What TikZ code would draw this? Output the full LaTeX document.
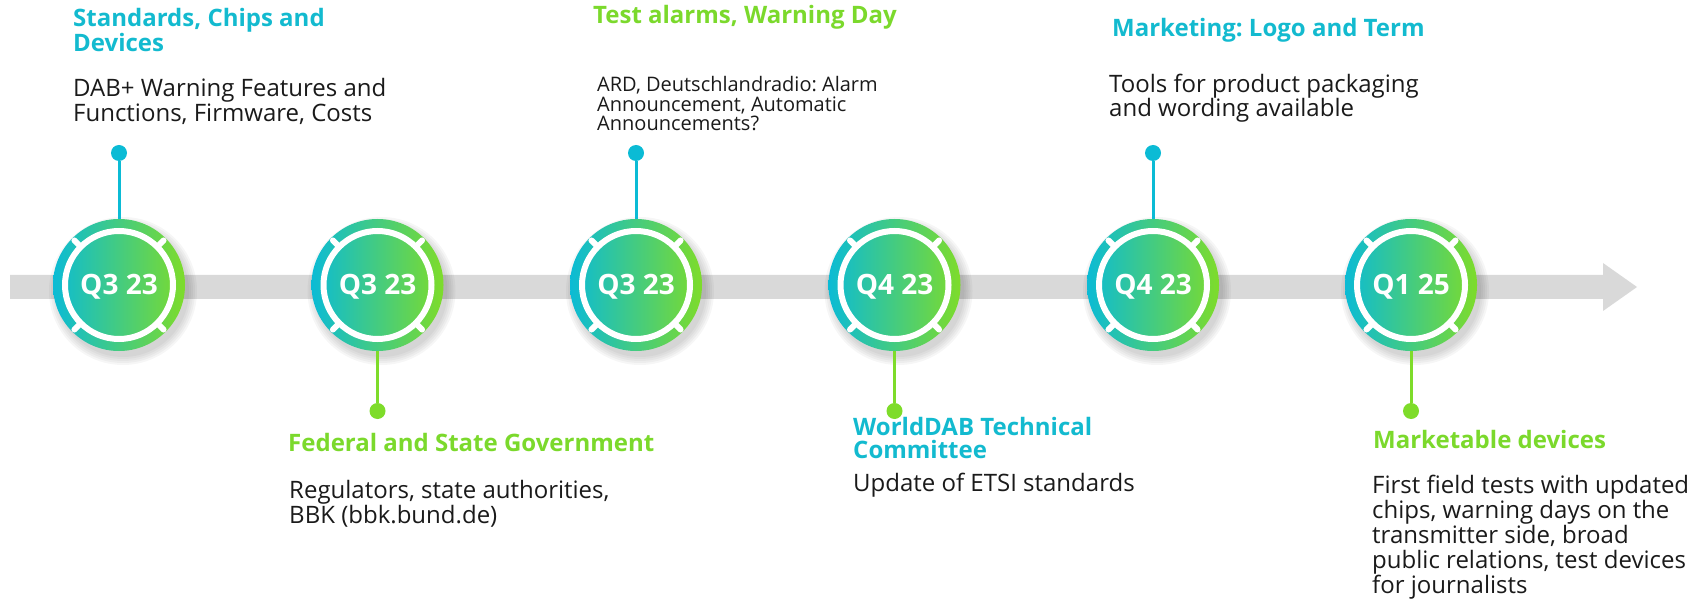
\documentclass[tikz,border=0pt]{standalone}
\usepackage{fontspec}
\setmainfont{Open Sans}
\usetikzlibrary{calc}
\frenchspacing
\definecolor{cy}{HTML}{0BBBD5}
\definecolor{gr}{HTML}{7EDC2A}
\definecolor{tcy}{HTML}{13BACF}
\definecolor{tgr}{HTML}{7BD92C}
\definecolor{barc}{HTML}{D9D9D9}
\definecolor{txt}{HTML}{1A1A1A}
\newcommand{\mystack}[2]{\vtop{\baselineskip=#1pt\relax #2}}
\tikzset{
  qcircle/.style={circle, minimum size=132pt, inner sep=0pt, left color=cy, right color=gr,
    font=\bfseries\fontsize{28}{28}\selectfont, text=white, text height=20pt, text depth=0pt},
  dotcy/.style={circle, fill=cy, minimum size=16pt, inner sep=0pt},
  dotgr/.style={circle, fill=gr, minimum size=16pt, inner sep=0pt},
  linkcy/.style={draw=cy, line width=3pt},
  linkgr/.style={draw=gr, line width=3pt},
  ttl/.style={anchor=base west, inner sep=0pt, font=\bfseries\fontsize{24}{25}\selectfont},
  body/.style={anchor=base west, inner sep=0pt, font=\fontsize{24}{24}\selectfont, text=txt},
  bodysm/.style={anchor=base west, inner sep=0pt, font=\fontsize{20}{20}\selectfont, text=txt},
  ring/.style={draw=white, line width=6pt},
  notch/.style={draw=white, line width=6pt, line cap=round},
  shade/.style={fill=black, opacity=0.035},
}
\begin{document}
\begin{tikzpicture}[x=1pt, y=-1pt]
\useasboundingbox (0,0) rectangle (1704,601);
% timeline bar with arrow head
\fill[barc] (10,275) -- (1603,275) -- (1603,263) -- (1637,287) -- (1603,311) -- (1603,299) -- (10,299) -- cycle;
% positions
\coordinate (p1) at (119,285);
\coordinate (p2) at (377.5,285);
\coordinate (p3) at (636,285);
\coordinate (p4) at (894.5,285);
\coordinate (p5) at (1153,285);
\coordinate (p6) at (1411,285);
% soft shadows
\foreach \p in {p1,p2,p3,p4,p5,p6}{
  \foreach \r in {66,68,70,72,74}{
    \fill[shade] ($(\p)+(4,6)$) circle[radius=\r pt];
  }
}
% circles
\node[qcircle] (c1) at (p1) {Q3 23};
\node[qcircle] (c2) at (p2) {Q3 23};
\node[qcircle] (c3) at (p3) {Q3 23};
\node[qcircle] (c4) at (p4) {Q4 23};
\node[qcircle] (c5) at (p5) {Q4 23};
\node[qcircle] (c6) at (p6) {Q1 25};
\foreach \n in {c1,c2,c3,c4,c5,c6}{
  \draw[ring] (\n.center) circle[radius=54pt];
  \foreach \a in {45,135,225,315}{
    \draw[notch] ($(\n.center)+(\a:54)$) -- ($(\n.center)+(\a:63)$);
  }
}
% dots
\node[dotcy] (d1) at (119,153) {};
\node[dotgr] (d2) at (377.5,411) {};
\node[dotcy] (d3) at (636,153) {};
\node[dotgr] (d4) at (894.5,411) {};
\node[dotcy] (d5) at (1153,153) {};
\node[dotgr] (d6) at (1411,411) {};
% connectors
\draw[linkcy] (d1) -- (c1);
\draw[linkgr] (d2) -- (c2);
\draw[linkcy] (d3) -- (c3);
\draw[linkgr] (d4) -- (c4);
\draw[linkcy] (d5) -- (c5);
\draw[linkgr] (d6) -- (c6);
% texts
\node[ttl, text=tcy] (t1) at (73,27) {\mystack{25}{\hbox{Standards, Chips and}\hbox{Devices}}};
\node[body] (b1) at (73,97) {\mystack{23}{\hbox{DAB+ Warning Features and}\hbox{Functions, Firmware, Costs}}};
\node[ttl, text=tgr] (t2) at (288,451) {Federal and State Government};
\node[body] (b2) at (289,498) {\mystack{22}{\hbox{Regulators, state authorities,}\hbox{BBK (bbk.bund.de)}}};
\node[ttl, text=tgr] (t3) at (593,24) {Test alarms, Warning Day};
\node[bodysm] (b3) at (597,92) {\mystack{19.5}{\hbox{ARD, Deutschlandradio: Alarm}\hbox{Announcement, Automatic}\hbox{Announcements?}}};
\node[ttl, text=tcy] (t4) at (853,435) {\mystack{23}{\hbox{WorldDAB Technical}\hbox{Committee}}};
\node[body] (b4) at (853,491) {Update of ETSI standards};
\node[ttl, text=tcy] (t5) at (1112,37) {Marketing: Logo and Term};
\node[body] (b5) at (1109,93) {\mystack{24}{\hbox{Tools for product packaging}\hbox{and wording available}}};
\node[ttl, text=tgr] (t6) at (1373,448) {Marketable devices};
\node[body] (b6) at (1372,493) {\mystack{25}{\hbox{First field tests with updated}\hbox{chips, warning days on the}\hbox{transmitter side, broad}\hbox{public relations, test devices}\hbox{for journalists}}};
\end{tikzpicture}
\end{document}
